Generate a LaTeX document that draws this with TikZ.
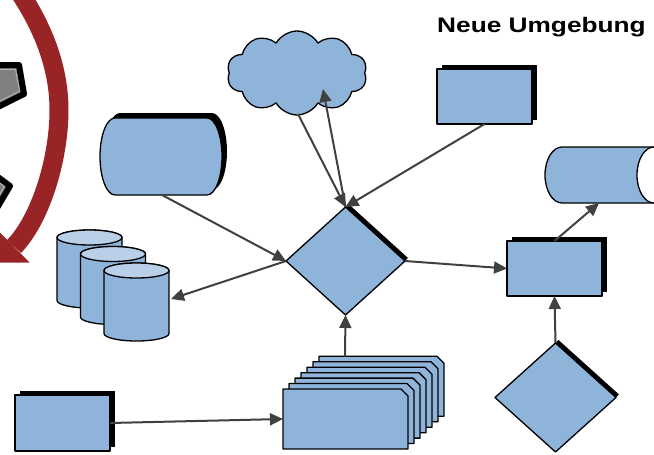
\documentclass[tikz,border=0pt]{standalone}
\usepackage{fontspec}
\usepackage{graphicx}
\setmainfont{Liberation Sans}
\usetikzlibrary{arrows.meta,shapes.geometric,shapes.symbols,shadows}
\definecolor{boxblue}{RGB}{143,180,218}
\definecolor{capblue}{RGB}{186,208,233}
\definecolor{conngray}{RGB}{64,64,64}
\definecolor{arcred}{RGB}{153,36,38}
\definecolor{pentgray}{RGB}{128,128,128}
\definecolor{pentline}{RGB}{178,178,178}
\begin{document}
\begin{tikzpicture}[x=1pt,y=-1pt,
  outline/.style={draw=black,line width=1.3pt,line join=round,fill=boxblue},
  blackshadow/.style={drop shadow={shadow xshift=#1,shadow yshift=#1,opacity=1,fill=black}},
  rectbox/.style={outline,rectangle,inner sep=0pt,outer sep=0pt,blackshadow=4.5pt},
  diabox/.style={outline,diamond,inner sep=0pt,outer sep=0pt,blackshadow=3pt},
  conn/.style={draw=conngray,line width=2pt,-{Triangle[length=13pt,width=12pt]}},
  pentborder/.style={draw=black,line width=6pt,line join=round,fill=pentgray},
  pentinner/.style={draw=pentline,line width=0.9pt,line join=round},
]
\useasboundingbox (0,0) rectangle (654,455);
\begin{scope}
\clip (0,0) rectangle (654,455);
% partial pentagons at the left edge
\draw[pentborder] (-30,65) -- (19,65) -- (24,94) -- (-20,116) -- cycle;
\draw[pentinner] (-30,69.5) -- (15.5,69.5) -- (19.5,91) -- (-20,111);
\draw[pentborder] (-25,160) -- (10,186) -- (-10,220) -- cycle;
\draw[pentinner] (-25,165) -- (4.5,186.5) -- (-13,215);
% red curved arrow
\draw[arcred,line width=19pt] (18,-10) .. controls (45,30) and (59,70) .. (59,110) .. controls (59,160) and (40,220) .. (14,246.5);
\fill[arcred] (29.5,262.5) -- (-2,262.5) -- (-2,230.5) -- cycle;

% title
\node[anchor=base,inner sep=0pt] (title) at (541.5,32.3) {\scalebox{1.25}[1]{\fontsize{21}{21}\selectfont\bfseries Neue Umgebung}};

% stored-data shape (left)
\begin{scope}[shift={(5,-5)}]
\fill[black] (115,118) -- (207,118) arc[start angle=-90,end angle=90,x radius=15,y radius=38.5] -- (115,195) arc[start angle=90,end angle=270,x radius=15,y radius=38.5] -- cycle;
\end{scope}
\draw[outline] (115,118) -- (207,118) arc[start angle=-90,end angle=90,x radius=15,y radius=38.5] -- (115,195) arc[start angle=90,end angle=270,x radius=15,y radius=38.5] -- cycle;
\coordinate (das) at (161,156.5);
\coordinate (dasB) at (162,195);

% stacked cylinders
\foreach \i in {0,1,2} {
  \begin{scope}[shift={(23.5*\i,16.5*\i)}]
    \draw[outline] (57,237.5) -- (57,300.5) arc[start angle=180,end angle=0,x radius=32.5,y radius=7.5] -- (122,237.5) arc[start angle=0,end angle=-180,x radius=32.5,y radius=7.5] -- cycle;
    \draw[outline,fill=capblue] (89.5,237.5) ellipse [x radius=32.5,y radius=7.5];
  \end{scope}
}
\coordinate (cylR) at (171,299);

% cloud
\node[cloud,outline,cloud puffs=10,cloud puff arc=120,aspect=1.6,minimum width=140pt,minimum height=84pt,inner sep=0pt] (cloud) at (297,73) {};
\coordinate (cloudA) at (298,114);
\coordinate (cloudB) at (323,89);

% rectangles
\node[rectbox,minimum width=95pt,minimum height=55pt] (tr) at (484.5,96.5) {};
\node[rectbox,minimum width=95pt,minimum height=55pt] (mr) at (554.5,268.5) {};
\node[rectbox,minimum width=95pt,minimum height=56pt] (bl) at (62.5,423) {};

% diamonds
\node[diabox,minimum width=119pt,minimum height=108pt] (d1) at (345.5,261) {};
\node[diabox,minimum width=121pt,minimum height=109pt] (d2) at (555.5,397.5) {};

% horizontal cylinder (top right)
\draw[outline] (672,147) -- (562,147) arc[start angle=270,end angle=90,x radius=17,y radius=28] -- (672,203) -- cycle;
\draw[outline,fill=white] (654,175) ellipse [x radius=17,y radius=28];
\coordinate (cylB) at (599,203);

% stacked cards
\foreach \k in {6,5,...,0} {
  \draw[outline] ({283+6*\k},{389-5.45*\k}) -- ++(118,0) -- ++(7,7) -- ++(0,53) -- ++(-125,0) -- cycle;
}
\coordinate (cardL) at (283,419);
\coordinate (cardT) at (345,356.5);

% connectors
\draw[conn] (dasB) -- (d1.west);
\draw[conn] (d1.west) -- (cylR);
\draw[conn] (cloudA) -- (d1.north);
\draw[conn] (d1.north) -- (cloudB);
\draw[conn] (tr.south) -- (d1.north);
\draw[conn] (d1.east) -- (mr.west);
\draw[conn] (mr.north) -- (cylB);
\draw[conn] (d2.north) -- (mr.south);
\draw[conn] (cardT) -- (d1.south);
\draw[conn] (bl.east) -- (cardL);
\end{scope}
\end{tikzpicture}
\end{document}
